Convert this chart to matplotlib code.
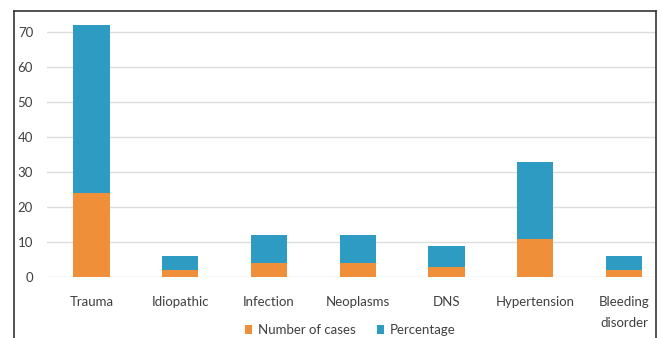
"""
Stacked bar chart of aetiology: number of cases and percentage per cause.
"""

import matplotlib
matplotlib.use("Agg")
import matplotlib.pyplot as plt
from matplotlib.lines import Line2D
import numpy as np

causes = ["Trauma", "Idiopathic", "Infection", "Neoplasms", "DNS",
          "Hypertension", "Bleeding\ndisorder"]
num_cases = [24, 2, 4, 4, 3, 11, 2]
percentage = [48, 4, 8, 8, 6, 22, 4]
y_ticks = [0, 10, 20, 30, 40, 50, 60, 70]

plt.rcParams["font.family"] = ["Lato", "DejaVu Sans"]

W, H = 662, 338
fig = plt.figure(figsize=(W / 100, H / 100), dpi=100)
fig.patch.set_facecolor("white")

# axes placed in pixel terms
left, right, bottom, top = 47, 656, 277, 18
ax = fig.add_axes([left / W, 1 - bottom / H, (right - left) / W, (bottom - top) / H])

orange = "#F08F3A"
blue = "#2E9CC2"
text_col = "#404040"

x = np.arange(len(causes))
ax.bar(x, num_cases, width=0.41, color=orange, label="Number of cases", zorder=3)
ax.bar(x, percentage, width=0.41, bottom=num_cases, color=blue,
       label="Percentage", zorder=3)

ax.set_xlim(-0.5, 6.36)
ax.set_ylim(0, 74)
ax.set_yticks(y_ticks)
ax.set_xticks(x)
ax.set_xticklabels(causes, va="top", linespacing=1.9)
ax.tick_params(axis="both", length=0, labelsize=9.5, colors=text_col)
ax.tick_params(axis="x", pad=14)
ax.tick_params(axis="y", pad=10)
ax.grid(axis="y", color="#DCDCDC", linewidth=1, zorder=0)
for s in ax.spines.values():
    s.set_visible(False)

# outer frame around the chart area
frame_kw = dict(color="#333333", linewidth=1.2, transform=None)
fig.add_artist(Line2D([14, 14], [0, H - 11], **frame_kw))
fig.add_artist(Line2D([14, 656], [H - 11, H - 11], **frame_kw))
fig.add_artist(Line2D([656, 656], [0, H - 11], **frame_kw))

fig.legend(loc="center", bbox_to_anchor=(350 / W, 1 - 330 / H), ncol=2,
           frameon=False, fontsize=9.5, handlelength=0.6, handleheight=0.6,
           handletextpad=0.4, columnspacing=1.6, labelcolor=text_col)

fig.savefig("out.png", dpi=100, facecolor="white")
